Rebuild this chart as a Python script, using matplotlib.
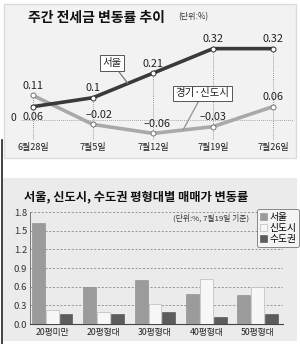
import matplotlib.pyplot as plt
from matplotlib.patches import Rectangle, Patch

plt.rcParams['font.family'] = ['Noto Sans CJK KR', 'DejaVu Sans']

# 주간 전세금 변동률 추이 (단위: %)
weeks = ['6월28일', '7월5일', '7월12일', '7월19일', '7월26일']
seoul_weekly = [0.06, 0.1, 0.21, 0.32, 0.32]
gyeonggi_weekly = [0.11, -0.02, -0.06, -0.03, 0.06]

# 평형대별 매매가 변동률 (7월19일 기준)
sizes = ['20평미만', '20평형대', '30평형대', '40평형대', '50평형대']
seoul_size = [1.62, 0.6, 0.7, 0.48, 0.47]
newtown_size = [0.22, 0.19, 0.32, 0.72, 0.6]
capital_size = [0.16, 0.16, 0.19, 0.11, 0.16]

W, H = 300, 344
fig = plt.figure(figsize=(W / 100, H / 100), dpi=100)
fig.patch.set_facecolor('white')


def box(x0, y0, x1, y1):
    # pixel box, origin top-left -> figure fraction
    return [x0 / W, 1 - y1 / H, (x1 - x0) / W, (y1 - y0) / H]


def fmt(v):
    s = ('%.2f' % abs(v)).rstrip('0')
    return ('−' if v < 0 else '') + s


# background panels
bg = fig.add_axes([0, 0, 1, 1], zorder=0)
bg.set_xlim(0, W)
bg.set_ylim(H, 0)
bg.axis('off')
bg.add_patch(Rectangle((4, 4), 292, 154, facecolor='#f2f2f2', edgecolor='#dcdcdc', lw=1))
bg.add_patch(Rectangle((3, 178), 294, 163, facecolor='#ebebeb', edgecolor='none'))
bg.plot([1.5, 1.5], [140, 344], color='#222222', lw=1.2)

# ---- top: line chart ----
fig.text(28 / W, 1 - 18 / H, '주간 전세금 변동률 추이', fontsize=10, fontweight='bold',
         ha='left', va='center', color='#111111')
fig.text(178 / W, 1 - 17 / H, '(단위:%)', fontsize=5.8, ha='left', va='center', color='#333333')

ax1 = fig.add_axes(box(8, 30, 296, 140), zorder=2)
ax1.set_facecolor('none')
ax1.set_xlim(-0.417, 4.383)
ax1.set_ylim(-0.0897, 0.4036)
ax1.axis('off')
x = list(range(len(weeks)))

ax1.plot([-0.2, 4.35], [0, 0], ls=(0, (1, 1.5)), color='#8a8a8a', lw=0.6, zorder=1)
ax1.text(-0.32, 0.008, '0', fontsize=7.5, ha='center', va='center', color='#222222')
for i in x:
    top = max(seoul_weekly[i], gyeonggi_weekly[i])
    ax1.plot([i, i], [-0.0897, top], ls=(0, (1, 1.5)), color='#7a7a7a', lw=0.6, zorder=1)
    ax1.text(i, -0.125, weeks[i], fontsize=6.5, ha='center', va='center', color='#222222',
             clip_on=False)

ax1.plot(x, gyeonggi_weekly, color='#a9a9a9', lw=2.6, zorder=3,
         marker='o', ms=3.6, mfc='white', mec='#777777', mew=0.7)
ax1.plot(x, seoul_weekly, color='#3a3a3a', lw=2.6, zorder=4,
         marker='o', ms=3.6, mfc='white', mec='#333333', mew=0.7)

for i, v in enumerate(seoul_weekly):
    if i == 0:
        ax1.annotate(fmt(v), (i, v), xytext=(0, -7.5), textcoords='offset points',
                     fontsize=7.8, ha='center', va='center', color='#222222')
    else:
        ax1.annotate(fmt(v), (i, v), xytext=(0, 6.8), textcoords='offset points',
                     fontsize=7.8, ha='center', va='center', color='#222222')
for i, v in enumerate(gyeonggi_weekly):
    dx = 4 if i == 1 else (3 if i == 2 else 0)
    ax1.annotate(fmt(v), (i, v), xytext=(dx, 6.8), textcoords='offset points',
                 fontsize=7.8, ha='center', va='center', color='#222222')

ax1.annotate('서울', xy=(1.58, 0.164), xytext=(1.32, 0.256), fontsize=7.5,
             ha='center', va='center', color='#222222', zorder=5,
             bbox=dict(boxstyle='square,pad=0.25', fc='white', ec='#555555', lw=0.7),
             arrowprops=dict(arrowstyle='-', color='#777777', lw=0.9, shrinkA=0, shrinkB=0))
ax1.annotate('경기·신도시', xy=(2.5, -0.045), xytext=(2.83, 0.119), fontsize=7.5,
             ha='center', va='center', color='#222222', zorder=5,
             bbox=dict(boxstyle='square,pad=0.25', fc='white', ec='#555555', lw=0.7),
             arrowprops=dict(arrowstyle='-', color='#999999', lw=1.0, shrinkA=0, shrinkB=0))

# ---- bottom: bar chart ----
fig.text(24 / W, 1 - 197 / H, '서울, 신도시, 수도권 평형대별 매매가 변동률', fontsize=8.8,
         fontweight='bold', ha='left', va='center', color='#111111')
fig.text(211 / W, 1 - 218 / H, '(단위:%, 7월19일 기준)', fontsize=5.6,
         ha='center', va='center', color='#333333')

ax2 = fig.add_axes(box(30, 212, 283, 324), zorder=2)
ax2.set_facecolor('none')
ax2.set_xlim(-0.43, 4.49)
ax2.set_ylim(0, 1.8)
pos = list(range(len(sizes)))
bw = 0.25
ax2.bar([p - 0.27 for p in pos], seoul_size, bw, color='#9b9b9b', edgecolor='#8a8a8a', lw=0.4,
        label='서울', zorder=3)
ax2.bar(pos, newtown_size, bw, color='#f7f7f7', edgecolor='#bbbbbb', lw=0.5,
        label='신도시', zorder=3)
ax2.bar([p + 0.27 for p in pos], capital_size, bw, color='#5c5c5c', edgecolor='#4a4a4a', lw=0.4,
        label='수도권', zorder=3)

yt = [0.0, 0.3, 0.6, 0.9, 1.2, 1.5, 1.8]
ax2.set_yticks(yt)
ax2.set_yticklabels(['%.1f' % t for t in yt], fontsize=6.8, color='#333333')
for t in yt[1:]:
    ax2.axhline(t, ls=(0, (2.5, 2)), color='#8a8a8a', lw=0.6, zorder=1)
ax2.set_xticks(pos)
ax2.set_xticklabels(sizes, fontsize=6.3, color='#222222')
ax2.tick_params(axis='both', length=0, pad=3)
ax2.tick_params(axis='y', pad=2)
for s in ['top', 'right']:
    ax2.spines[s].set_visible(False)
ax2.spines['left'].set_color('#666666')
ax2.spines['bottom'].set_color('#444444')
ax2.spines['left'].set_linewidth(0.6)
ax2.spines['bottom'].set_linewidth(0.8)

handles = [Patch(facecolor='#9b9b9b', edgecolor='#8a8a8a', lw=0.4),
           Patch(facecolor='#f7f7f7', edgecolor='#bbbbbb', lw=0.5),
           Patch(facecolor='#5c5c5c', edgecolor='#4a4a4a', lw=0.4)]
leg = fig.legend(handles, ['서울', '신도시', '수도권'], loc='upper left',
                 bbox_to_anchor=(257 / W, 1 - 209 / H), fontsize=7,
                 handlelength=0.7, handleheight=0.7, handletextpad=0.25,
                 labelspacing=0.12, borderpad=0.3, borderaxespad=0,
                 frameon=True, fancybox=True, edgecolor='#777777', facecolor='#f4f4f4',
                 framealpha=1)
leg.get_frame().set_linewidth(0.6)

fig.savefig('out.png', dpi=100)
